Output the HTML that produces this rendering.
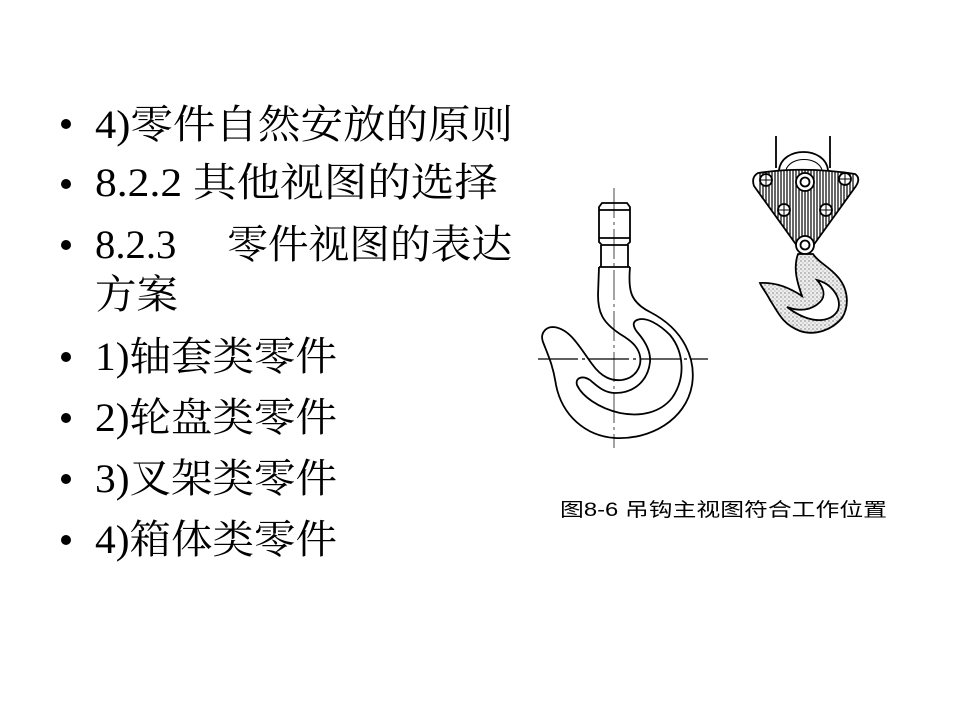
<!DOCTYPE html>
<html><head><meta charset="utf-8"><style>
html,body{margin:0;padding:0;background:#fff;}
svg{display:block;}
</style></head><body>
<svg width="960" height="720" viewBox="0 0 960 720" xmlns="http://www.w3.org/2000/svg">
<defs>
<clipPath id="tri"><path d="M758,173 Q805,166 855,174 Q861,178 856,186 L810,250 L800,250 L754,186 Q751,177 758,173 Z"/></clipPath>
<pattern id="dots" width="4" height="4" patternUnits="userSpaceOnUse"><rect width="4" height="4" fill="#eee"/><circle cx="1" cy="1" r="0.6" fill="#444"/><circle cx="3" cy="3" r="0.5" fill="#777"/></pattern>
</defs>
<g font-family="'Liberation Serif','Noto Serif CJK SC',serif" font-size="40" fill="#000">
<circle cx="66" cy="124" r="5"/><text x="95" y="138" textLength="418" lengthAdjust="spacingAndGlyphs">4)零件自然安放的原则</text>
<circle cx="66" cy="184" r="5"/><text x="95" y="196" textLength="403" lengthAdjust="spacingAndGlyphs">8.2.2  其他视图的选择</text>
<circle cx="66" cy="245" r="5"/><text x="95" y="258" textLength="417" lengthAdjust="spacingAndGlyphs">8.2.3　 零件视图的表达</text>
<text x="95" y="308" textLength="83" lengthAdjust="spacingAndGlyphs">方案</text>
<circle cx="66" cy="357" r="5"/><text x="95" y="370" textLength="242" lengthAdjust="spacingAndGlyphs">1)轴套类零件</text>
<circle cx="66" cy="418" r="5"/><text x="95" y="431" textLength="242" lengthAdjust="spacingAndGlyphs">2)轮盘类零件</text>
<circle cx="66" cy="479" r="5"/><text x="95" y="492" textLength="242" lengthAdjust="spacingAndGlyphs">3)叉架类零件</text>
<circle cx="66" cy="540" r="5"/><text x="95" y="553" textLength="242" lengthAdjust="spacingAndGlyphs">4)箱体类零件</text>
</g>
<text x="560" y="516" font-family="'Liberation Sans','Noto Sans CJK SC',sans-serif" font-size="19" textLength="327" lengthAdjust="spacingAndGlyphs">图8-6  吊钩主视图符合工作位置</text>

<!-- left hook -->
<g fill="none" stroke="#000" stroke-width="1.8">
<line x1="614" y1="188" x2="614" y2="448" stroke="#666" stroke-width="1.2" stroke-dasharray="30,4,3,4"/>
<line x1="538" y1="359" x2="708" y2="359" stroke="#000" stroke-width="1.2" stroke-dasharray="40,4,3,4"/>
<path d="M602,203 L627,203 L630,207 L630,242 L627,245 L602,245 L599,242 L599,207 Z"/>
<line x1="599" y1="210" x2="630" y2="210"/><line x1="599" y1="238" x2="630" y2="238"/>
<path d="M601,245 L601,267 M628,245 L628,267"/>
<path d="M599,267 L630,267"/>
<path d="M630,267 C628,290 630,302 650,312 C685,330 696,360 692,385 C686,420 650,440 615,438 C585,436 562,415 556,385 C553,365 548,355 543,342 C540,334 545,327 553,327 C570,328 580,348 592,364 C602,378 612,381 622,380 C636,378 642,366 640,356 C638,346 630,340 620,334 C602,322 598,312 598,295 L599,267"/>
<path d="M637,320 C646,316 660,325 670,335 C684,352 686,378 672,398 C660,413 640,417 620,413 C598,408 582,396 577,385 C575,378 582,375 590,380 C598,387 605,393 615,393 C635,393 648,380 650,362 C651,350 644,340 638,333 C633,327 632,322 637,320 Z"/>
</g>

<!-- right hook -->
<g stroke="#000" stroke-width="1.8" fill="none">
<line x1="776" y1="136" x2="776" y2="168"/><line x1="830" y1="136" x2="830" y2="168"/>
<path d="M779,170 C782,146 825,146 828,170"/>
<path d="M786,170 C790,156 818,156 822,170" stroke-width="1"/>
<g clip-path="url(#tri)" stroke-width="1.2">
<rect x="750" y="165" width="112" height="90" fill="#fff" stroke="none"/>
<path d="M760,165V255M763,165V255M766,165V255M769,165V255M772,165V255M775,165V255M778,165V255M781,165V255M784,165V255M787,165V255M790,165V255M793,165V255M796,165V255M799,165V255M802,165V255M805,165V255M808,165V255M811,165V255M814,165V255M817,165V255M820,165V255M823,165V255M826,165V255M829,165V255M832,165V255M835,165V255M838,165V255M841,165V255M844,165V255M847,165V255M850,165V255M853,165V255"/>
</g>
<path d="M758,173 Q805,166 855,174 Q861,178 856,186 L810,250 L800,250 L754,186 Q751,177 758,173 Z"/>
<g fill="#fff">
<circle cx="766" cy="180" r="6"/><circle cx="845" cy="179" r="6"/>
<circle cx="784" cy="210" r="6"/><circle cx="826" cy="210" r="6"/>
<circle cx="805" cy="182" r="9"/><circle cx="805" cy="182" r="4.5"/>
<circle cx="805" cy="245" r="9"/><circle cx="805" cy="245" r="4.5"/>
</g>
<path d="M766,174V186M760,180H772M845,173V185M839,179H851M784,204V216M778,210H790M826,204V216M820,210H832" stroke-width="1"/>
<path fill="url(#dots)" d="M798,254 C793,268 797,282 802,296 C790,288 775,282 760,283 C762,288 766,292 770,300 C778,312 782,324 800,331 C815,336 832,330 842,318 C850,305 848,288 837,276 C828,266 818,262 813,254 Z"/>
<path fill="#fff" d="M817,280 C832,284 842,298 838,310 C832,322 812,326 787,307 C800,312 812,310 820,302 C826,296 824,288 817,280 Z"/>
</g>
</svg>
</body></html>
